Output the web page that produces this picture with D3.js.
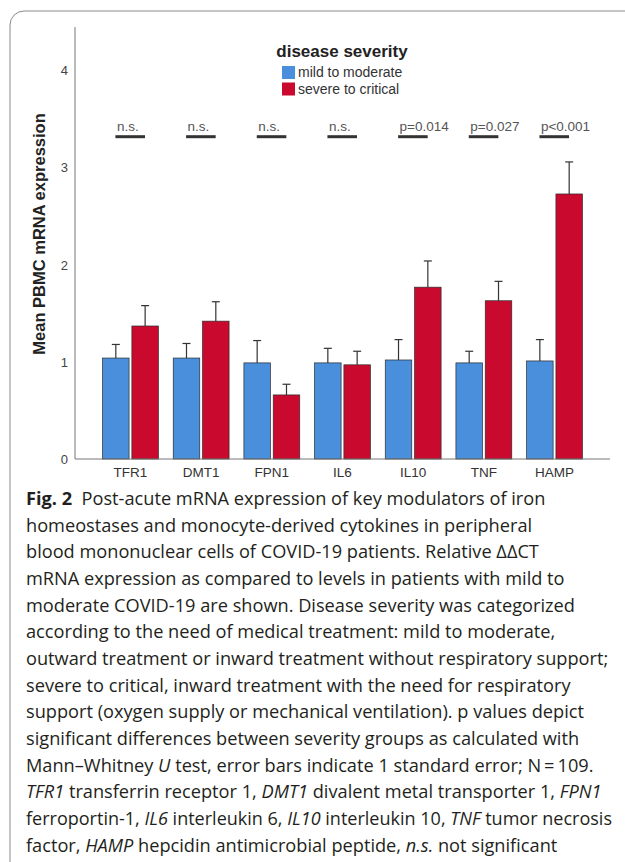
<!DOCTYPE html>
<html>
<head>
<meta charset="utf-8">
<script src="https://cdn.jsdelivr.net/npm/d3@7"></script>
<style>
  body { margin: 0; background: #fff; }
  svg { display: block; }
  .cap { white-space: pre; }
</style>
</head>
<body>
<div id="chart"></div>
<script>
// values
var genes = ["TFR1", "DMT1", "FPN1", "IL6", "IL10", "TNF", "HAMP"];
var groups = ["mild to moderate", "severe to critical"];
var mildMean = [1.04, 1.04, 0.99, 0.99, 1.02, 0.99, 1.01];
var mildSE = [0.14, 0.15, 0.23, 0.15, 0.21, 0.12, 0.22];
var severeMean = [1.37, 1.42, 0.66, 0.97, 1.77, 1.63, 2.73];
var severeSE = [0.21, 0.20, 0.11, 0.14, 0.27, 0.20, 0.33];
var pLabels = ["n.s.", "n.s.", "n.s.", "n.s.", "p=0.014", "p=0.027", "p<0.001"];
var yTicks = [0, 1, 2, 3, 4];

var colors = ["#4a8fdb", "#c90a2e"];

// caption lines, [text, style] pieces
var caption = [
  [["Fig. 2", "b"], ["  Post-acute mRNA expression of key modulators of iron", ""]],
  [["homeostases and monocyte-derived cytokines in peripheral", ""]],
  [["blood mononuclear cells of COVID-19 patients. Relative \u0394\u0394CT", ""]],
  [["mRNA expression as compared to levels in patients with mild to", ""]],
  [["moderate COVID-19 are shown. Disease severity was categorized", ""]],
  [["according to the need of medical treatment: mild to moderate,", ""]],
  [["outward treatment or inward treatment without respiratory support;", ""]],
  [["severe to critical, inward treatment with the need for respiratory", ""]],
  [["support (oxygen supply or mechanical ventilation). p values depict", ""]],
  [["significant differences between severity groups as calculated with", ""]],
  [["Mann\u2013Whitney ", ""], ["U", "i"], [" test, error bars indicate 1 standard error; N\u2009=\u2009109.", ""]],
  [["TFR1", "i"], [" transferrin receptor 1, ", ""], ["DMT1", "i"], [" divalent metal transporter 1, ", ""], ["FPN1", "i"]],
  [["ferroportin-1, ", ""], ["IL6", "i"], [" interleukin 6, ", ""], ["IL10", "i"], [" interleukin 10, ", ""], ["TNF", "i"], [" tumor necrosis", ""]],
  [["factor, ", ""], ["HAMP", "i"], [" hepcidin antimicrobial peptide, ", ""], ["n.s.", "i"], [" not significant", ""]]
];

var W = 625, H = 862;
var svg = d3.select("#chart").append("svg")
  .attr("width", W)
  .attr("height", H);

// frame (open at right / bottom)
svg.append("path")
  .attr("d", "M10," + H + " L10,25 A14,14 0 0 1 24,11 L" + W + ",11")
  .attr("fill", "none")
  .attr("stroke", "#8a8a8a")
  .attr("stroke-width", 1);

var chartFont = "'Liberation Sans', Arial, sans-serif";

// scales
var x0 = d3.scaleBand()
  .domain(genes)
  .range([75, 610])
  .paddingInner(0.21)
  .paddingOuter(0.39);

var x1 = d3.scaleBand()
  .domain(groups)
  .range([0, x0.bandwidth()])
  .paddingInner(0.096);

var y = d3.scaleLinear()
  .domain([0, 4.45])
  .range([459, 27]);

var color = d3.scaleOrdinal().domain(groups).range(colors);

// rows for bars
var rows = genes.map(function(g, i) {
  return {
    gene: g,
    vals: [
      {group: groups[0], mean: mildMean[i], se: mildSE[i]},
      {group: groups[1], mean: severeMean[i], se: severeSE[i]}
    ]
  };
});

var g = svg.append("g");

var groupSel = g.selectAll(".grp")
  .data(rows)
  .enter()
  .append("g")
    .attr("class", "grp")
    .attr("transform", function(d) { return "translate(" + x0(d.gene) + ",0)"; });

// error bars (upper half, drawn behind bars)
var errs = groupSel.selectAll(".err")
  .data(function(d) { return d.vals; })
  .enter()
  .append("g")
    .attr("class", "err")
    .attr("stroke", "#333")
    .attr("stroke-width", 1.2);

errs.append("line")
  .attr("x1", function(d) { return x1(d.group) + x1.bandwidth() / 2; })
  .attr("x2", function(d) { return x1(d.group) + x1.bandwidth() / 2; })
  .attr("y1", function(d) { return y(d.mean); })
  .attr("y2", function(d) { return y(d.mean + d.se); });

errs.append("line")
  .attr("x1", function(d) { return x1(d.group) + x1.bandwidth() / 2 - 4; })
  .attr("x2", function(d) { return x1(d.group) + x1.bandwidth() / 2 + 4; })
  .attr("y1", function(d) { return y(d.mean + d.se); })
  .attr("y2", function(d) { return y(d.mean + d.se); });

groupSel.selectAll("rect")
  .data(function(d) { return d.vals; })
  .enter()
  .append("rect")
    .attr("x", function(d) { return x1(d.group); })
    .attr("width", x1.bandwidth())
    .attr("y", function(d) { return y(d.mean); })
    .attr("height", function(d) { return y(0) - y(d.mean); })
    .attr("fill", function(d) { return color(d.group); })
    .attr("stroke", "#2c2c2c")
    .attr("stroke-width", 0.7);

// significance marks
var sigY = y(3.32);
var sig = g.selectAll(".sig")
  .data(genes)
  .enter()
  .append("g")
    .attr("class", "sig");

sig.append("line")
  .attr("x1", function(d) { return x0(d) + x0.bandwidth() * 0.23; })
  .attr("x2", function(d) { return x0(d) + x0.bandwidth() * 0.76; })
  .attr("y1", sigY)
  .attr("y2", sigY)
  .attr("stroke", "#333")
  .attr("stroke-width", 3);

sig.append("text")
  .attr("x", function(d) { return x0(d) + x0.bandwidth() * 0.23 + 1.5; })
  .attr("y", sigY - 6)
  .attr("font-family", chartFont)
  .attr("font-size", 13.5)
  .attr("fill", "#555")
  .text(function(d, i) { return pLabels[i]; });

// axes
var yAxis = g.append("g")
  .attr("transform", "translate(75,0)")
  .call(d3.axisLeft(y).tickValues(yTicks).tickSize(0).tickPadding(7).tickFormat(d3.format("d")));
yAxis.select(".domain").attr("stroke", "#777").attr("d", "M0," + y(4.45) + "V" + y(0));
yAxis.selectAll("text")
  .attr("font-family", chartFont)
  .attr("font-size", 13)
  .attr("fill", "#444");

var xAxis = g.append("g")
  .attr("transform", "translate(0," + y(0) + ")")
  .call(d3.axisBottom(x0).tickSize(0).tickPadding(8));
xAxis.select(".domain").attr("stroke", "#777").attr("d", "M75,0H610");
xAxis.selectAll("text")
  .attr("font-family", chartFont)
  .attr("font-size", 13.5)
  .attr("fill", "#333");

// y title
g.append("text")
  .attr("transform", "translate(45,234) rotate(-90)")
  .attr("text-anchor", "middle")
  .attr("font-family", chartFont)
  .attr("font-weight", "bold")
  .attr("font-size", 16.5)
  .attr("fill", "#222")
  .text("Mean PBMC mRNA expression");

// legend
var legend = g.append("g");
legend.append("text")
  .attr("x", 342)
  .attr("y", 57)
  .attr("text-anchor", "middle")
  .attr("font-family", chartFont)
  .attr("font-weight", "bold")
  .attr("font-size", 17)
  .attr("fill", "#222")
  .text("disease severity");

var li = legend.selectAll(".li")
  .data(groups)
  .enter()
  .append("g")
    .attr("class", "li")
    .attr("transform", function(d, i) { return "translate(282," + (66 + i * 16.5) + ")"; });
li.append("rect")
  .attr("width", 13)
  .attr("height", 13)
  .attr("fill", function(d) { return color(d); });
li.append("text")
  .attr("x", 16)
  .attr("y", 11)
  .attr("font-family", chartFont)
  .attr("font-size", 14)
  .attr("fill", "#333")
  .text(function(d) { return d; });

// caption, one text per line, squeezed if it runs past the right margin
var maxW = 586;
caption.forEach(function(line, i) {
  var t = svg.append("text")
    .attr("class", "cap")
    .attr("x", 26)
    .attr("y", 505 + i * 26.67)
    .attr("font-family", "'Open Sans', 'Noto Sans', sans-serif")
    .attr("font-size", 18.2)
    .attr("fill", "#231f20");
  line.forEach(function(p) {
    var s = t.append("tspan").text(p[0]);
    if (p[1] === "i") s.attr("font-style", "italic");
    if (p[1] === "b") s.attr("font-weight", "bold");
  });
  var len = t.node().getComputedTextLength();
  if (len > maxW) {
    t.attr("textLength", maxW).attr("lengthAdjust", "spacingAndGlyphs");
  }
});
</script>
</body>
</html>
